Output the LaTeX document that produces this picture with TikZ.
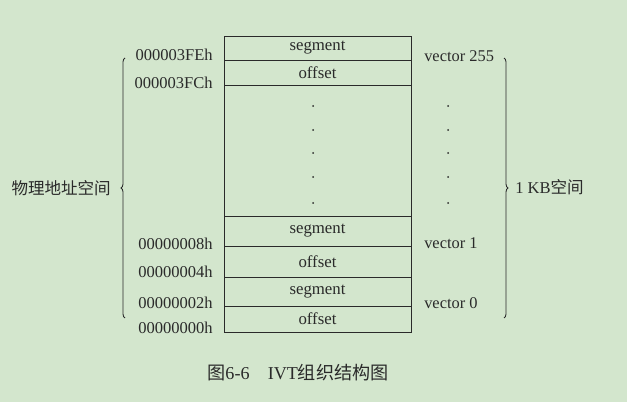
\documentclass[tikz,border=0pt]{standalone}
\usepackage{fontspec}
\setmainfont{Liberation Serif}
\newfontfamily\cjk{Noto Sans CJK SC}
\usetikzlibrary{positioning,decorations.pathreplacing}
\definecolor{paper}{HTML}{D3E6CD}
\definecolor{ink}{HTML}{2A2A2A}
\tikzset{
  every node/.style={text=ink},
  cell/.style={draw=ink, line width=0.65pt, minimum width=140.25pt, inner sep=0pt,
    font=\fontsize{12.6}{14}\selectfont},
  addr/.style={anchor=east, inner sep=0pt, font=\fontsize{12.4}{14}\selectfont},
  vec/.style={anchor=west, inner sep=0pt, font=\fontsize{12.3}{14}\selectfont},
  annot/.style={inner sep=0pt, font=\fontsize{12.4}{14}\selectfont},
  bracket/.style={draw=ink, line width=0.65pt, decorate, decoration={brace, amplitude=3pt}}
}
\begin{document}
\begin{tikzpicture}[x=0.75pt, y=-0.75pt]
  \useasboundingbox[fill=paper] (0,0) rectangle (627,402);

  % IVT table
  \node[cell, minimum height=18pt]    (seg255) at (317.5,48)    {segment};
  \node[cell, minimum height=18.75pt] (off255) at (317.5,72.5)  {offset};
  \node[cell, minimum height=98.25pt] (gap)    at (317.5,150.5) {};
  \node[cell, minimum height=22.5pt]  (seg1)   at (317.5,231)   {segment};
  \node[cell, minimum height=23.25pt] (off1)   at (317.5,261.5) {offset};
  \node[cell, minimum height=21.75pt] (seg0)   at (317.5,291.5) {segment};
  \node[cell, minimum height=19.5pt]  (off0)   at (317.5,319)   {offset};

  % elided rows
  \foreach \y in {106,130,153,177,203} {
    \fill[ink] (313,\y) circle (1);
    \fill[ink] (448,\y) circle (1);
  }

  % addresses
  \node[addr] (a3fe) at (213,55)  {000003FEh};
  \node[addr] (a3fc) at (213,83)  {000003FCh};
  \node[addr] (a8)   at (213,244) {00000008h};
  \node[addr] (a4)   at (213,272) {00000004h};
  \node[addr] (a2)   at (213,303) {00000002h};
  \node[addr] (a0)   at (213,328) {00000000h};

  % vectors
  \node[vec] (v255) at (424,56)  {vector 255};
  \node[vec] (v1)   at (424,243) {vector 1};
  \node[vec] (v0)   at (424,303) {vector 0};

  % braces
  \coordinate (ltop) at (125,58);
  \coordinate (lbot) at (125,318);
  \coordinate (rtop) at (504,58);
  \coordinate (rbot) at (504,318);
  \draw[bracket] (lbot) -- (ltop);
  \draw[bracket] (rtop) -- (rbot);
  \node[annot, anchor=east] (phys) at (111,188) {\cjk 物理地址空间};
  \node[annot, anchor=west] (kb)   at (515,187) {1 KB\cjk 空间};

  % caption
  \node[annot, font=\fontsize{13.6}{15}\selectfont] (cap) at (298,373)
    {{\cjk 图}6-6\hspace{1em}IVT{\cjk 组织结构图}};
\end{tikzpicture}
\end{document}
